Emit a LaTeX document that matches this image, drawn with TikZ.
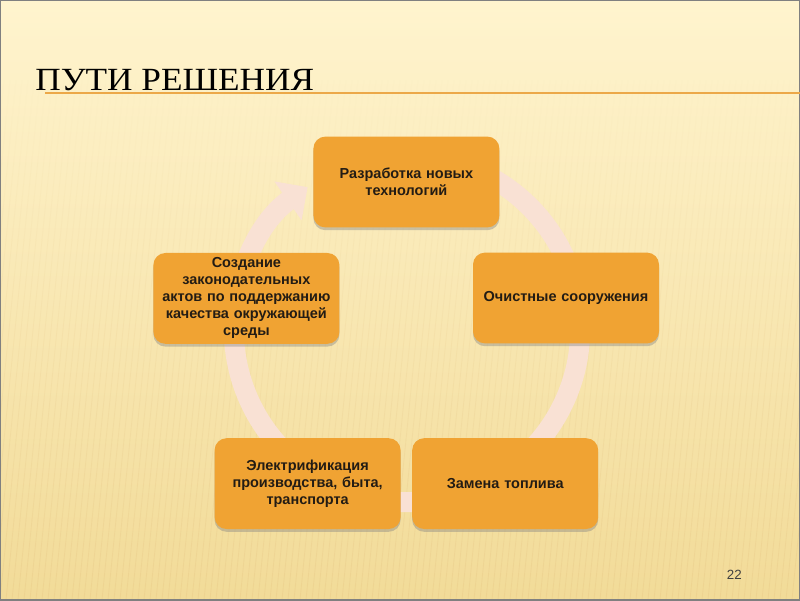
\documentclass[tikz,border=0pt]{standalone}
\usepackage{fontspec}
\setmainfont{Liberation Serif}
\newfontfamily\boxfont{Liberation Sans}
\usepackage{tikz}
\usetikzlibrary{arrows.meta}
\usetikzlibrary{shadows}

\definecolor{slidetop}{RGB}{255,244,206}
\definecolor{slidebottom}{RGB}{242,219,152}
\definecolor{boxorange}{RGB}{240,163,51}
\definecolor{ringpink}{RGB}{249,225,212}
\definecolor{ruleorange}{RGB}{236,168,72}
\definecolor{boxtext}{RGB}{35,28,20}

\begin{document}
\begin{tikzpicture}[
	stagebox/.style={fill=boxorange, rounded corners=0.3cm, minimum width=4.65cm, minimum height=2.27cm, text width=4.35cm, align=center, text=boxtext, font=\boxfont\bfseries\fontsize{10.3}{12.1}\selectfont, drop shadow={shadow xshift=0pt, shadow yshift=-2pt, opacity=0.4}}
	]
	\useasboundingbox (0,0) rectangle (20,15);
	
	% slide background
	\shade[top color=slidetop, bottom color=slidebottom] (0,0) rectangle (20,15);
	\foreach \y in {0,1,...,12} {
		\pgfmathsetmacro{\o}{0.2*(1-\y/13)}
		\foreach \x in {0,0.15,...,21}
			\draw[slidebottom!60!brown, opacity=\o, line width=0.6pt] (\x-1.2+0.1*\y,\y) -- (\x-1.1+0.1*\y,\y+1);
	}
	\draw[gray, line width=1.5pt] (0,0) rectangle (20,15);
	
	% title
	\node[anchor=base west, inner sep=0pt, xscale=1.09, font=\fontsize{23}{26}\selectfont] (title) at (0.875,12.725) {ПУТИ РЕШЕНИЯ};
	\draw[ruleorange, line width=1.5pt] (1.125,12.68) -- (20,12.68);
	
	% ring with arrow
	\draw[ringpink, line width=0.5cm, -{Triangle[length=0.6cm, width=1.15cm]}] (10.175,6.775) ++(95:4.33) arc[start angle=95, end angle=-235, radius=4.33];
	
	% stages
	\node[stagebox] (dev) at (10.16,10.45) {Разработка новых\\технологий};
	\node[stagebox] (clean) at (14.15,7.55) {Очистные сооружения};
	\node[stagebox] (fuel) at (12.63,2.91) {Замена топлива};
	\node[stagebox] (electro) at (7.69,2.91) {Электрификация\\производства, быта,\\транспорта};
	\node[stagebox] (law) at (6.16,7.54) {Создание\\законодательных\\актов по поддержанию\\качества окружающей\\среды};
	
	% page number
	\node[font=\boxfont\fontsize{9.5}{11}\selectfont, text=black!75] (page) at (18.36,0.62) {22};
\end{tikzpicture}
\end{document}
